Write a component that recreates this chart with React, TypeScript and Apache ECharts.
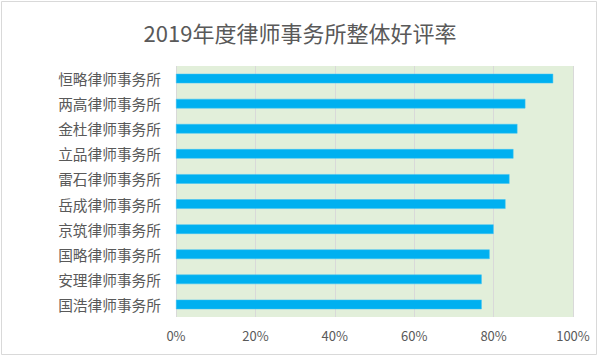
import React, { useEffect, useRef } from "react";
import * as echarts from "echarts";

const titleText = "2019年度律师事务所整体好评率";
const categories = [
  "恒略律师事务所",
  "两高律师事务所",
  "金杜律师事务所",
  "立品律师事务所",
  "雷石律师事务所",
  "岳成律师事务所",
  "京筑律师事务所",
  "国略律师事务所",
  "安理律师事务所",
  "国浩律师事务所",
];
const values = [95, 88, 86, 85, 84, 83, 80, 79, 77, 77];

const FONT = "'Noto Sans CJK SC', 'Noto Sans', sans-serif";

export default function App() {
  const ref = useRef<HTMLDivElement>(null);
  useEffect(() => {
    if (!ref.current) return;
    const chart = echarts.init(ref.current, undefined, { renderer: "svg" });
    chart.setOption({
      animation: false,
      backgroundColor: "#ffffff",
      title: {
        text: titleText,
        left: "center",
        top: 16,
        textStyle: { fontFamily: FONT, fontSize: 22, fontWeight: "normal", color: "#595959" },
      },
      graphic: [
        {
          type: "rect",
          shape: { x: 1.5, y: 1.5, width: 595, height: 353 },
          style: { fill: "none", stroke: "#d9d9d9", lineWidth: 1 },
          silent: true,
        },
      ],
      grid: {
        left: 176,
        right: 27,
        top: 66,
        bottom: 40,
        show: true,
        backgroundColor: "#e2efda",
        borderWidth: 0,
      },
      xAxis: {
        type: "value",
        min: 0,
        max: 100,
        interval: 20,
        axisLine: { show: false },
        axisTick: { show: false },
        splitLine: { show: true, lineStyle: { color: "#d9d9d9", width: 1 } },
        axisLabel: {
          formatter: "{value}%",
          fontFamily: FONT,
          fontSize: 13,
          color: "#595959",
          margin: 12,
        },
      },
      yAxis: {
        type: "category",
        inverse: true,
        data: categories,
        axisLine: { show: false },
        axisTick: { show: false },
        splitLine: { show: false },
        axisLabel: {
          fontFamily: FONT,
          fontSize: 14.7,
          color: "#595959",
          margin: 15,
        },
      },
      series: [
        {
          type: "bar",
          data: values,
          barCategoryGap: "62%",
          itemStyle: { color: "#00b0f0", borderColor: "#3ec3f5", borderWidth: 0.5 },
        },
      ],
    });
    return () => chart.dispose();
  }, []);
  return <div ref={ref} style={{ width: 600, height: 357, position: "absolute", left: 0, top: 0 }} />;
}
